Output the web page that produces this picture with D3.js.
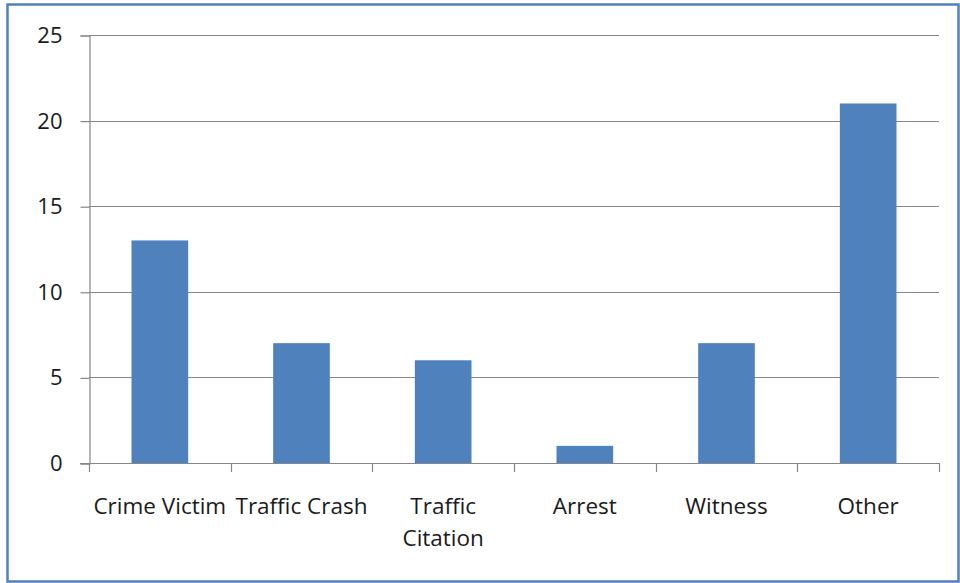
<!DOCTYPE html>
<html>
<head>
<meta charset="utf-8">
<script src="https://cdn.jsdelivr.net/npm/d3@7"></script>
<style>
  body { margin: 0; background: #fff; }
  svg text { font-family: "Open Sans", sans-serif; fill: #1a1a1a; }
</style>
</head>
<body>
<div class="container"></div>
<script>
// chart data
var categories = ["Crime Victim", "Traffic Crash", "Traffic Citation", "Arrest", "Witness", "Other"];
var counts = [13, 7, 6, 1, 7, 21];
var yTicks = [0, 5, 10, 15, 20, 25];

var opts = {width: 960, height: 583,
            left: 89, right: 939, top: 35, bottom: 463};

var svg = d3.select(".container")
    .append("svg")
    .attr("width", opts.width)
    .attr("height", opts.height);

// outer frame
svg.append("rect")
    .attr("x", 7.5).attr("y", 4.5)
    .attr("width", 951).attr("height", 577)
    .attr("fill", "none")
    .attr("stroke", "#4f81bd")
    .attr("stroke-width", 2.5);

var x = d3.scaleBand()
    .domain(categories)
    .range([opts.left, opts.right])
    .paddingInner(0.6)
    .paddingOuter(0.3);

var y = d3.scaleLinear()
    .domain([0, 25])
    .range([opts.bottom, opts.top]);

// gridlines
svg.append("g").selectAll("line")
    .data(yTicks.slice(1))
    .enter().append("line")
    .attr("x1", opts.left).attr("x2", opts.right)
    .attr("y1", function(d){ return Math.round(y(d)) + 0.5; })
    .attr("y2", function(d){ return Math.round(y(d)) + 0.5; })
    .attr("stroke", "#878787")
    .attr("stroke-width", 1.2);

// bars
svg.append("g").selectAll("rect")
    .data(counts)
    .enter().append("rect")
    .attr("x", function(d, i){ return x(categories[i]); })
    .attr("width", x.bandwidth())
    .attr("y", function(d){ return y(d); })
    .attr("height", function(d){ return y(0) - y(d); })
    .attr("fill", "#4f81bd");

// y axis
var yAxis = d3.axisLeft(y).tickValues(yTicks).tickSize(9).tickPadding(18);
var gy = svg.append("g")
    .attr("transform", "translate(" + (opts.left + 0.5) + ",0.5)")
    .call(yAxis);
gy.select(".domain").attr("stroke", "#878787").attr("stroke-width", 1.2);
gy.selectAll(".tick line").attr("stroke", "#878787").attr("stroke-width", 1.2);
gy.selectAll("text").style("font-size", "22px").attr("fill", "#1a1a1a");

// x axis: category boundaries as ticks
var step = x.step();
var bounds = d3.range(categories.length + 1).map(function(i){ return opts.left + i * step; });
var gx = svg.append("g");
gx.append("line")
    .attr("x1", opts.left - 9).attr("x2", opts.right)
    .attr("y1", Math.round(y(0)) + 0.5).attr("y2", Math.round(y(0)) + 0.5)
    .attr("stroke", "#878787").attr("stroke-width", 1.2);
gx.selectAll("line.tk")
    .data(bounds)
    .enter().append("line")
    .attr("class", "tk")
    .attr("x1", function(d){ return Math.round(d) + 0.5; })
    .attr("x2", function(d){ return Math.round(d) + 0.5; })
    .attr("y1", y(0)).attr("y2", y(0) + 9)
    .attr("stroke", "#878787").attr("stroke-width", 1.2);

// category labels (wrap where the reference wraps)
var labelLines = {"Traffic Citation": ["Traffic", "Citation"]};
var lbl = gx.selectAll("text.cat")
    .data(categories)
    .enter().append("text")
    .attr("class", "cat")
    .attr("text-anchor", "middle")
    .style("font-size", "22.5px");
lbl.each(function(d){
  var lines = labelLines[d] || [d];
  var t = d3.select(this);
  lines.forEach(function(s, j){
    t.append("tspan")
      .attr("x", x(d) + x.bandwidth() / 2)
      .attr("y", 514 + j * 32)
      .text(s);
  });
});
</script>
</body>
</html>
